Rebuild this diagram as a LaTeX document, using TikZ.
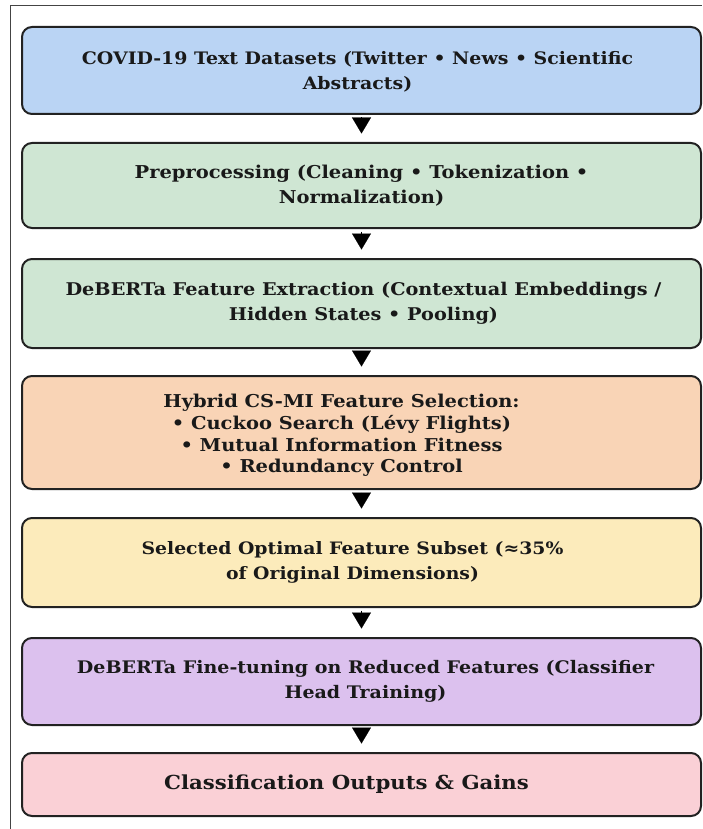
\documentclass[tikz,border=0pt]{standalone}
\usepackage{fontspec}
\setmainfont{DejaVu Serif}[FakeStretch=1.1]
\usetikzlibrary{arrows.meta}
\definecolor{cblue}{HTML}{BAD4F4}
\definecolor{cgreen}{HTML}{CFE6D3}
\definecolor{cpeach}{HTML}{F9D4B6}
\definecolor{cyellow}{HTML}{FCEBBB}
\definecolor{clav}{HTML}{DCC1EE}
\definecolor{cpink}{HTML}{FAD0D6}
\definecolor{cedge}{HTML}{222222}
\definecolor{cframe}{HTML}{444444}
\tikzset{
  flowbox/.style={draw=cedge, line width=2pt, rounded corners=10pt,
    minimum width=679pt, inner sep=0pt, outer sep=0pt},
  flowtext/.style={inner sep=0pt, align=center, text=black!90},
  fs/.style 2 args={font=\fontsize{#1}{#2}\selectfont\bfseries},
  flowarrow/.style={line width=0.1pt, black, -{Triangle[width=19pt,length=16pt]}}
}
\begin{document}
\begin{tikzpicture}[x=1pt,y=-1pt]
\useasboundingbox (0,0) rectangle (702,829);
\fill[white] (0,0) rectangle (702,829);
\draw[cframe, line width=1pt] (10,829) -- (10,6) -- (702,6);
\node[flowbox, fill=cblue, minimum height=87pt] (b1) at (361.5,70.5) {};
\node[flowbox, fill=cgreen, minimum height=85pt] (b2) at (361.5,185.5) {};
\node[flowbox, fill=cgreen, minimum height=89pt] (b3) at (361.5,303.5) {};
\node[flowbox, fill=cpeach, minimum height=113pt] (b4) at (361.5,432.5) {};
\node[flowbox, fill=cyellow, minimum height=89pt] (b5) at (361.5,562.5) {};
\node[flowbox, fill=clav, minimum height=87pt] (b6) at (361.5,681.5) {};
\node[flowbox, fill=cpink, minimum height=63pt] (b7) at (361.5,784.5) {};
\node[flowtext, fs={17.2}{25}] (t1) at ([xshift=-4pt,yshift=-1pt]b1.center)
  {COVID-19 Text Datasets (Twitter • News • Scientific\\Abstracts)};
\node[flowtext, fs={17.7}{25}] (t2) at (b2.center)
  {Preprocessing (Cleaning • Tokenization •\\Normalization)};
\node[flowtext, fs={17.5}{24.5}] (t3) at ([xshift=2pt]b3.center)
  {DeBERTa Feature Extraction (Contextual Embeddings /\\Hidden States • Pooling)};
\node[flowtext, fs={17.7}{21.7}] (t4) at ([xshift=-20pt,yshift=-3pt]b4.center)
  {Hybrid CS-MI Feature Selection:\\• Cuckoo Search (Lévy Flights)\\• Mutual Information Fitness\\• Redundancy Control};
\node[flowtext, fs={17.1}{25}] (t5) at ([xshift=-9pt]b5.center)
  {Selected Optimal Feature Subset (≈35\%\\of Original Dimensions)};
\node[flowtext, fs={17.3}{25}] (t6) at ([xshift=4pt]b6.center)
  {DeBERTa Fine-tuning on Reduced Features (Classifier\\Head Training)};
\node[flowtext, fs={19.3}{24}] (t7) at ([xshift=-15pt]b7.center)
  {Classification Outputs \& Gains};
\foreach \a/\b in {b1/b2,b2/b3,b3/b4,b4/b5,b5/b6,b6/b7}
  \draw[flowarrow] ([yshift=-3.5pt]\a.south) -- ([yshift=9.5pt]\b.north);
\end{tikzpicture}
\end{document}
